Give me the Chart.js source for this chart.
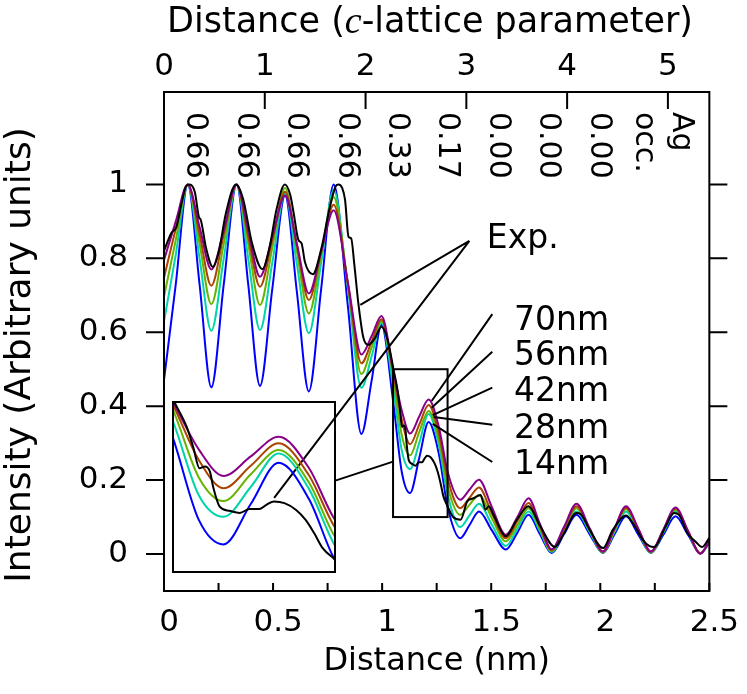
<!DOCTYPE html>
<html>
<head>
<meta charset="utf-8">
<script src="https://cdn.jsdelivr.net/npm/chart.js@4.4.0/dist/chart.umd.min.js"></script>
<style>
  body { margin: 0; background: #fff; }
  #wrap { position: relative; width: 747px; height: 694px; }
  canvas { display: block; }
  #inset { position: absolute; }
</style>
</head>
<body>
<div id="wrap">
  <canvas id="main" width="747" height="694"></canvas>
  <canvas id="inset"></canvas>
</div>
<script>
// simulated profiles, one x grid (nm) shared by all film thicknesses
const xNm = [0, 0.054, 0.109, 0.163, 0.217, 0.274, 0.333, 0.386, 0.440, 0.497, 0.555, 0.609, 0.664, 0.721, 0.778, 0.843, 0.905, 0.952, 0.997, 1.05, 1.09, 1.128, 1.17, 1.213, 1.26, 1.30, 1.358, 1.40, 1.444, 1.503, 1.567, 1.62, 1.671, 1.723, 1.777, 1.834, 1.891, 1.951, 2.012, 2.064, 2.118, 2.175, 2.232, 2.289, 2.345, 2.402, 2.459, 2.5];
const sim14 = [0.471, 0.73, 1.0, 0.73, 0.451, 0.73, 1.0, 0.73, 0.455, 0.72, 0.97, 0.71, 0.440, 0.72, 1.0, 0.67, 0.325, 0.47, 0.62, 0.415, 0.222, 0.165, 0.26, 0.357, 0.271, 0.128, 0.043, 0.078, 0.115, 0.064, 0.012, 0.058, 0.106, 0.054, 0.003, 0.054, 0.106, 0.054, 0.003, 0.052, 0.102, 0.052, 0.003, 0.052, 0.102, 0.052, 0.002, 0.03];
const sim28 = [0.629, 0.81, 1.0, 0.80, 0.604, 0.80, 1.0, 0.80, 0.606, 0.79, 0.975, 0.785, 0.597, 0.79, 0.985, 0.72, 0.45, 0.535, 0.626, 0.454, 0.28, 0.23, 0.30, 0.379, 0.295, 0.162, 0.073, 0.104, 0.136, 0.079, 0.022, 0.068, 0.115, 0.062, 0.006, 0.06, 0.115, 0.06, 0.004, 0.058, 0.115, 0.058, 0.004, 0.058, 0.115, 0.058, 0.002, 0.032];
const sim42 = [0.696, 0.85, 1.0, 0.84, 0.676, 0.84, 1.0, 0.84, 0.674, 0.83, 0.99, 0.82, 0.651, 0.81, 0.965, 0.73, 0.487, 0.56, 0.631, 0.481, 0.322, 0.267, 0.33, 0.387, 0.31, 0.183, 0.106, 0.133, 0.160, 0.097, 0.034, 0.079, 0.124, 0.068, 0.008, 0.066, 0.124, 0.064, 0.005, 0.063, 0.122, 0.063, 0.005, 0.062, 0.12, 0.06, 0.002, 0.033];
const sim56 = [0.747, 0.88, 1.0, 0.865, 0.726, 0.865, 1.0, 0.86, 0.723, 0.85, 0.98, 0.835, 0.687, 0.82, 0.945, 0.73, 0.516, 0.575, 0.635, 0.493, 0.363, 0.297, 0.35, 0.403, 0.327, 0.205, 0.124, 0.152, 0.180, 0.11, 0.043, 0.09, 0.138, 0.075, 0.01, 0.07, 0.129, 0.068, 0.006, 0.066, 0.125, 0.065, 0.006, 0.065, 0.123, 0.062, 0.002, 0.034];
const sim70 = [0.795, 0.90, 1.0, 0.885, 0.770, 0.875, 1.0, 0.875, 0.750, 0.86, 0.97, 0.84, 0.705, 0.82, 0.93, 0.735, 0.54, 0.59, 0.644, 0.50, 0.388, 0.326, 0.372, 0.418, 0.344, 0.223, 0.147, 0.174, 0.201, 0.127, 0.052, 0.10, 0.151, 0.082, 0.013, 0.074, 0.136, 0.07, 0.007, 0.068, 0.129, 0.068, 0.007, 0.066, 0.126, 0.063, 0.001, 0.035];

// experimental profile
const expX = [0, 0.033, 0.057, 0.081, 0.101, 0.118, 0.141, 0.161, 0.168, 0.192, 0.224, 0.252, 0.283, 0.33, 0.363, 0.404, 0.451, 0.484, 0.515, 0.554, 0.579, 0.595, 0.616, 0.631, 0.646, 0.682, 0.723, 0.757, 0.787, 0.80, 0.817, 0.83, 0.846, 0.858, 0.873, 0.891, 0.913, 0.936, 0.967, 0.997, 1.025, 1.053, 1.071, 1.081, 1.091, 1.099, 1.107, 1.112, 1.122, 1.137, 1.153, 1.168, 1.183, 1.194, 1.206, 1.222, 1.24, 1.255, 1.268, 1.281, 1.298, 1.325, 1.36, 1.39, 1.42, 1.451, 1.463, 1.474, 1.489, 1.515, 1.567, 1.615, 1.671, 1.725, 1.792, 1.83, 1.891, 1.91, 1.951, 2.012, 2.058, 2.118, 2.149, 2.194, 2.224, 2.247, 2.3, 2.338, 2.361, 2.399, 2.436, 2.467, 2.5];
const expY = [0.82, 0.868, 0.885, 0.95, 0.995, 1.0, 0.98, 0.91, 0.905, 0.83, 0.777, 0.82, 0.92, 1.0, 0.96, 0.84, 0.771, 0.83, 0.93, 1.0, 0.971, 0.92, 0.85, 0.84, 0.79, 0.757, 0.831, 0.93, 0.995, 1.0, 0.99, 0.958, 0.858, 0.854, 0.78, 0.678, 0.588, 0.566, 0.584, 0.615, 0.58, 0.497, 0.442, 0.395, 0.344, 0.348, 0.336, 0.30, 0.254, 0.244, 0.239, 0.248, 0.248, 0.258, 0.266, 0.262, 0.246, 0.222, 0.191, 0.156, 0.132, 0.10, 0.093, 0.142, 0.151, 0.160, 0.14, 0.12, 0.129, 0.10, 0.048, 0.09, 0.129, 0.075, 0.019, 0.052, 0.111, 0.108, 0.066, 0.016, 0.066, 0.104, 0.084, 0.039, 0.022, 0.019, 0.075, 0.111, 0.106, 0.057, 0.034, 0.019, 0.044];

const filmLabels = ['14nm', '28nm', '42nm', '56nm', '70nm'];
const agOcc = ['0.66', '0.66', '0.66', '0.66', '0.33', '0.17', '0.00', '0.00', '0.00'];
const xTicks = [0, 0.25, 0.5, 0.75, 1, 1.25, 1.5, 1.75, 2, 2.25, 2.5];
const xLabels = [0, 0.5, 1, 1.5, 2, 2.5];
const yTicks = [0, 0.2, 0.4, 0.6, 0.8, 1];
const cTicks = [0, 1, 2, 3, 4, 5];

const cNm = 0.462; // nm per c-lattice parameter
const zoomBox = { x0: 1.05, x1: 1.3, y0: 0.1, y1: 0.5 };
const insetBox = { x0: 0.041, x1: 0.782, y0: -0.048, y1: 0.412 };

Chart.defaults.font.family = 'DejaVu Sans';
Chart.defaults.font.size = 31;
Chart.defaults.color = '#000';

function pts(xs, ys) { return xs.map((x, i) => ({ x: x, y: ys[i] })); }

function makeDatasets() {
    const line = (data, color) => ({
        data: data, borderColor: color, borderWidth: 2, pointRadius: 0,
        cubicInterpolationMode: 'monotone', fill: false
    });
    return [
        line(pts(expX, expY), '#000000'),
        line(pts(xNm, sim70), '#880088'),
        line(pts(xNm, sim56), '#aa4400'),
        line(pts(xNm, sim42), '#66b300'),
        line(pts(xNm, sim28), '#00d4aa'),
        line(pts(xNm, sim14), '#0000ff')
    ];
}

const decorations = {
    id: 'decorations',
    afterDraw(chart) {
        const { ctx, chartArea: a, scales } = chart;
        const px = v => scales.x.getPixelForValue(v);
        const py = v => scales.y.getPixelForValue(v);
        const line = (x1, y1, x2, y2) => { ctx.moveTo(px(x1), py(y1)); ctx.lineTo(px(x2), py(y2)); };
        ctx.save();

        // room for the inset
        ctx.fillStyle = '#fff';
        ctx.fillRect(px(insetBox.x0), py(insetBox.y1), px(insetBox.x1) - px(insetBox.x0), py(insetBox.y0) - py(insetBox.y1));

        // frame and ticks
        ctx.strokeStyle = '#000';
        ctx.lineWidth = 2;
        ctx.strokeRect(a.left, a.top, a.right - a.left, a.bottom - a.top);
        ctx.beginPath();
        yTicks.forEach(v => {
            ctx.moveTo(a.left - 18, py(v)); ctx.lineTo(a.left, py(v));
            ctx.moveTo(a.right, py(v)); ctx.lineTo(a.right + 18, py(v));
        });
        xTicks.forEach(v => { ctx.moveTo(px(v), a.bottom); ctx.lineTo(px(v), a.bottom - 8); });
        cTicks.forEach(v => {
            const x = scales.x2.getPixelForValue(v);
            ctx.moveTo(x, a.top); ctx.lineTo(x, a.top + 17);
        });
        ctx.stroke();

        // zoom rectangle
        ctx.strokeRect(px(zoomBox.x0), py(zoomBox.y1), px(zoomBox.x1) - px(zoomBox.x0), py(zoomBox.y0) - py(zoomBox.y1));

        // pointer lines
        ctx.beginPath();
        line(0.782, 0.198, 1.05, 0.25);
        line(1.40, 0.847, 0.90, 0.674);
        line(1.40, 0.847, 0.505, 0.152);
        const starts = [0.249, 0.35, 0.45, 0.547, 0.649];
        const ends = [[1.232, 0.352], [1.236, 0.371], [1.232, 0.376], [1.227, 0.396], [1.227, 0.414]];
        starts.forEach((y, i) => line(1.505, y, ends[i][0], ends[i][1]));
        ctx.stroke();

        // labels
        ctx.fillStyle = '#000';
        ctx.font = '33px "DejaVu Sans"';
        ctx.textAlign = 'left';
        ctx.textBaseline = 'middle';
        ctx.fillText('Exp.', px(1.48), py(0.85));
        const labelY = [0.239, 0.337, 0.437, 0.534, 0.628];
        filmLabels.forEach((t, i) => ctx.fillText(t, px(1.605), py(labelY[i])));

        // Ag occupancy, written downwards
        const occ = agOcc.map((t, i) => [t, 0.31 + 0.5 * i]).concat([['occ.', 4.76], ['Ag', 5.13]]);
        ctx.font = '30px "DejaVu Sans"';
        occ.forEach(([t, c]) => {
            ctx.save();
            ctx.translate(scales.x2.getPixelForValue(c), a.top + 20);
            ctx.rotate(Math.PI / 2);
            ctx.fillText(t, 0, 0);
            ctx.restore();
        });

        // y axis title
        ctx.save();
        ctx.font = '36px "DejaVu Sans"';
        ctx.textAlign = 'center';
        ctx.translate(21, 355);
        ctx.rotate(-Math.PI / 2);
        ctx.fillText('Intensity (Arbitrary units)', 0, 0);
        ctx.restore();

        // top axis title with italic c
        const parts = [['Distance (', '35px "DejaVu Sans"'], ['c', 'italic 38px "Liberation Serif"'], ['-lattice parameter)', '35px "DejaVu Sans"']];
        let w = 0;
        parts.forEach(([t, f]) => { ctx.font = f; w += ctx.measureText(t).width; });
        let x = 430 - w / 2;
        parts.forEach(([t, f]) => { ctx.font = f; ctx.fillText(t, x, 23); x += ctx.measureText(t).width; });
        ctx.restore();
    }
};

const main = new Chart(document.getElementById('main'), {
    type: 'line',
    data: { datasets: makeDatasets() },
    options: {
        responsive: false,
        animation: false,
        devicePixelRatio: 1,
        layout: { padding: { right: 33 } },
        plugins: { legend: { display: false }, tooltip: { enabled: false } },
        scales: {
            x: {
                type: 'linear', position: 'bottom', min: 0, max: 2.5,
                grid: { display: false, drawTicks: false }, border: { display: false },
                afterBuildTicks: s => { s.ticks = xTicks.map(v => ({ value: v })); },
                afterFit: s => { s.height = 103; },
                ticks: {
                    autoSkip: false, maxRotation: 0, padding: 13, labelOffset: 5,
                    callback: v => xLabels.includes(v) ? String(v) : ''
                },
                title: { display: true, text: 'Distance (nm)', font: { size: 32 }, padding: { top: 0, bottom: 13 } }
            },
            x2: {
                type: 'linear', position: 'top', min: 0, max: 2.5 / cNm,
                grid: { display: false, drawTicks: false }, border: { display: false },
                afterBuildTicks: s => { s.ticks = cTicks.map(v => ({ value: v })); },
                afterFit: s => { s.height = 92; },
                ticks: { autoSkip: false, maxRotation: 0, padding: 6, callback: v => String(v) }
            },
            y: {
                position: 'left', min: -0.1, max: 1.25,
                grid: { display: false, drawTicks: false }, border: { display: false },
                afterBuildTicks: s => { s.ticks = yTicks.map(v => ({ value: v })); },
                afterFit: s => { s.width = 164; },
                ticks: { padding: 36, callback: v => String(v) }
            }
        }
    },
    plugins: [decorations]
});

// inset: same profiles, zoomed on the rectangle
const insetFrame = {
    id: 'insetFrame',
    afterDraw(chart) {
        const { ctx, chartArea: a } = chart;
        ctx.save();
        ctx.strokeStyle = '#000';
        ctx.lineWidth = 2;
        ctx.strokeRect(a.left, a.top, a.right - a.left, a.bottom - a.top);
        ctx.restore();
    }
};

const pad = 2;
const ix0 = main.scales.x.getPixelForValue(insetBox.x0);
const ix1 = main.scales.x.getPixelForValue(insetBox.x1);
const iy0 = main.scales.y.getPixelForValue(insetBox.y1);
const iy1 = main.scales.y.getPixelForValue(insetBox.y0);
const insetCanvas = document.getElementById('inset');
insetCanvas.width = Math.round(ix1 - ix0) + 2 * pad;
insetCanvas.height = Math.round(iy1 - iy0) + 2 * pad;
insetCanvas.style.left = Math.round(ix0 - pad) + 'px';
insetCanvas.style.top = Math.round(iy0 - pad) + 'px';

new Chart(insetCanvas, {
    type: 'line',
    data: { datasets: makeDatasets() },
    options: {
        responsive: false,
        animation: false,
        devicePixelRatio: 1,
        layout: { padding: pad },
        plugins: { legend: { display: false }, tooltip: { enabled: false } },
        scales: {
            x: { type: 'linear', display: false, min: zoomBox.x0, max: zoomBox.x1 },
            y: { display: false, min: zoomBox.y0, max: zoomBox.y1 }
        }
    },
    plugins: [insetFrame]
});
</script>
</body>
</html>
